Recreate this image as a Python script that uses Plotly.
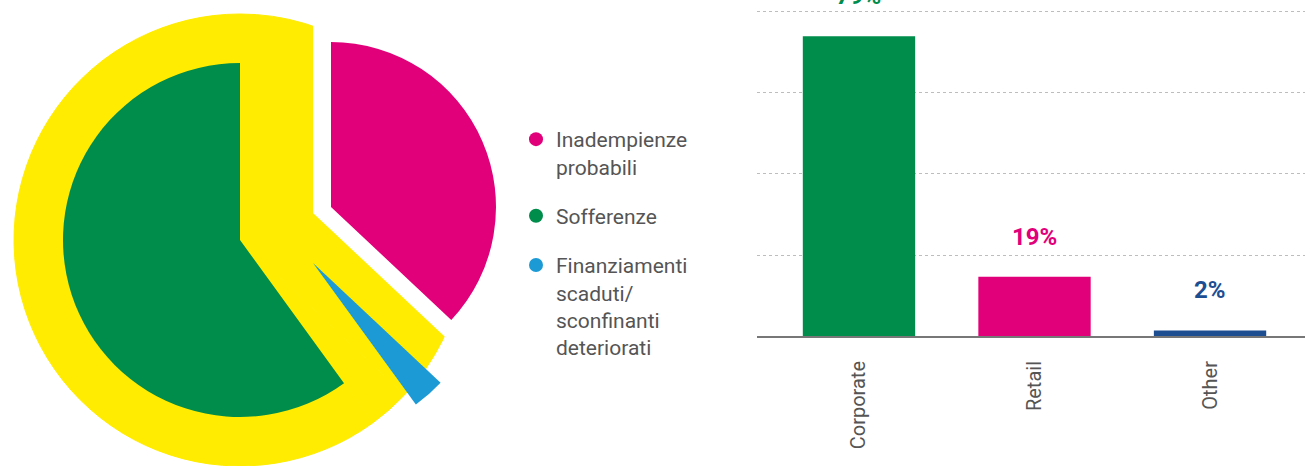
import plotly.graph_objects as go

# pie data (share of non-performing exposures, %), clockwise from 12 o'clock
pie_labels = ["Inadempienze probabili", "Finanziamenti scaduti/sconfinanti deteriorati", "Sofferenze"]
pie_values = [37, 3, 60]

# legend entries (in legend order)
legend_names = ["Inadempienze<br>probabili", "Sofferenze",
                "Finanziamenti<br>scaduti/<br>sconfinanti<br>deteriorati"]

# bar data
bar_categories = ["Corporate", "Retail", "Other"]
bar_heights = [18.5, 3.65, 0.34]
bar_labels = ["79%", "19%", "2%"]

YELLOW = "#FFEC00"
GREEN = "#008C4B"
MAGENTA = "#E2007A"
BLUE = "#1B9AD6"
NAVY = "#1D4E92"
CLEAR = "rgba(0,0,0,0)"

W, H = 1305, 466


def dom(cx, cy, r):
    # pie domain (paper coords) from a centre and radius in pixels
    return dict(x=[(cx - r) / W, (cx + r) / W], y=[1 - (cy + r) / H, 1 - (cy - r) / H])


def pie_layer(colors, cx, cy, r, edge=0):
    return go.Pie(labels=pie_labels, values=pie_values, sort=False, direction="clockwise",
                  rotation=0, marker=dict(colors=colors, line=dict(width=edge, color=colors)),
                  textinfo="none", hoverinfo="label+percent", showlegend=False,
                  domain=dom(cx, cy, r))


fig = go.Figure()

# yellow backdrop, white cut for the exploded slice, then the three slices
fig.add_trace(pie_layer([YELLOW, YELLOW, YELLOW], 240, 240, 226, edge=1))
fig.add_trace(pie_layer(["white", CLEAR, CLEAR], 313, 213, 205))
fig.add_trace(pie_layer([CLEAR, CLEAR, GREEN], 240, 240, 177))
fig.add_trace(pie_layer([CLEAR, BLUE, CLEAR], 313, 263, 175))
fig.add_trace(pie_layer([MAGENTA, CLEAR, CLEAR], 331, 207, 165))

# legend entries
for i, (name, col) in enumerate(zip(legend_names, [MAGENTA, GREEN, BLUE])):
    fig.add_trace(go.Scatter(x=[None], y=[None], mode="markers", name=name,
                             legendgroup=str(i),
                             marker=dict(color=col, size=14, symbol="circle")))

# bars
fig.add_trace(go.Bar(x=bar_categories, y=bar_heights, width=0.64,
                     marker=dict(color=[GREEN, MAGENTA, NAVY], line=dict(width=0)),
                     showlegend=False, hoverinfo="x"))

for cat, h, lab, col in zip(bar_categories, bar_heights, bar_labels, [GREEN, MAGENTA, NAVY]):
    fig.add_annotation(x=cat, y=h, text="<b>" + lab + "</b>", showarrow=False,
                       yanchor="bottom", yshift=24,
                       font=dict(family="Roboto", size=24, color=col))

fig.update_layout(
    width=W, height=H,
    margin=dict(l=0, r=0, t=0, b=0),
    paper_bgcolor="white", plot_bgcolor="white",
    font=dict(family="Roboto", color="#555555"),
    legend=dict(x=516 / W, y=1 - 119 / H, xanchor="left", yanchor="top",
                valign="top", tracegroupgap=19, itemsizing="trace",
                font=dict(family="Roboto", size=21, color="#555555")),
    xaxis=dict(type="category", categoryorder="array", categoryarray=bar_categories,
               domain=[757 / W, 1], range=[-0.581, 2.541], showgrid=False,
               showline=True, linecolor="#777777", linewidth=2, zeroline=False,
               tickangle=-90, ticks="", ticklabelstandoff=15,
               tickfont=dict(family="Roboto", size=20, color="#555555")),
    yaxis=dict(domain=[1 - 336 / H, 1], range=[0, 20.74], dtick=5, showgrid=True,
               gridcolor="#bdbdbd", griddash="dot", gridwidth=1,
               showticklabels=False, zeroline=False, ticks=""),
)

# drop the browser's default body margin so the figure sits at the page corner
fig.write_html("out.html", config={"displayModeBar": False},
               post_script="document.body.style.margin='0';")
